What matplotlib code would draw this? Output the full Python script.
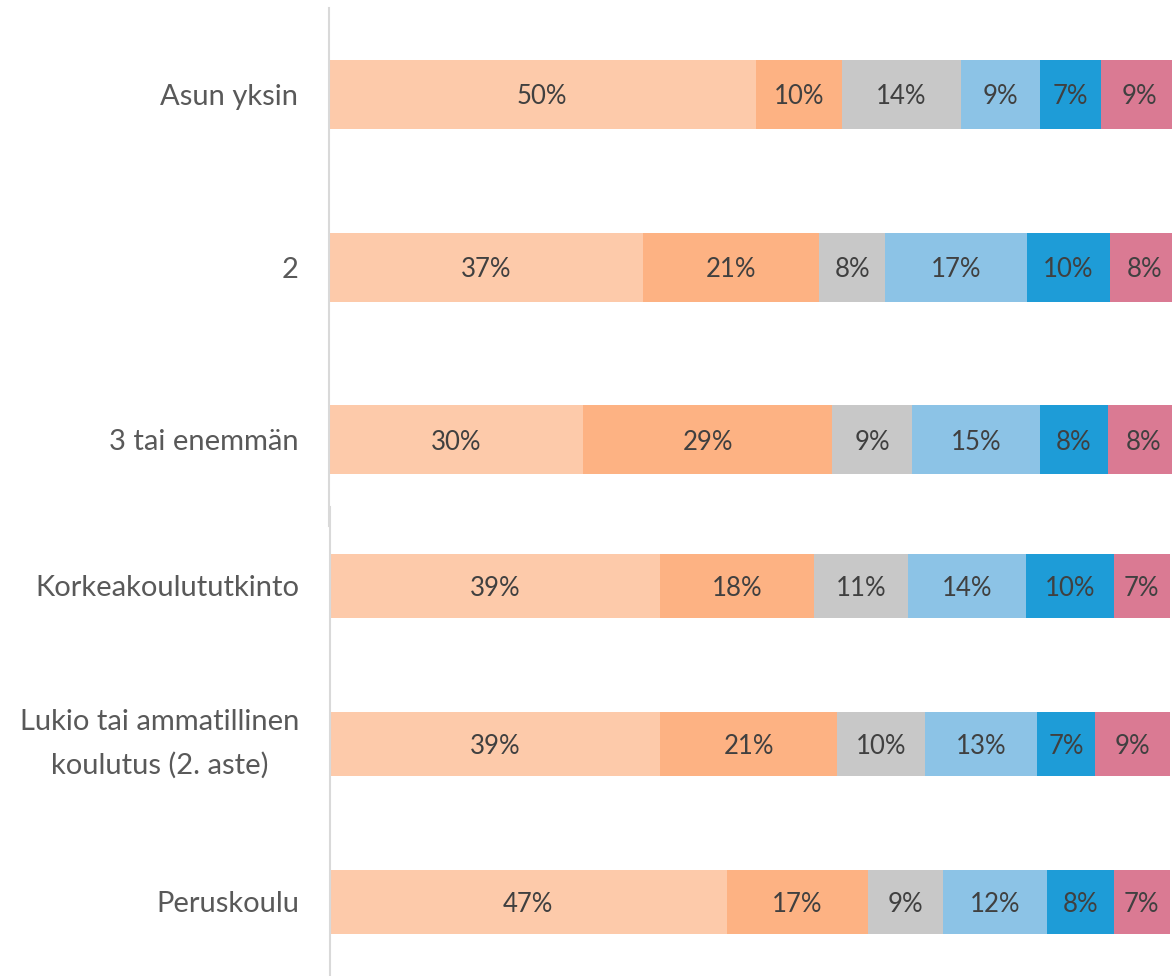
import numpy as np
import matplotlib.pyplot as plt

plt.rcParams['font.family'] = ['Lato', 'DejaVu Sans']

# rows of the two stacked panels (household size / education)
rows_top = ['Asun yksin', '2', '3 tai enemmän']
rows_bottom = ['Korkeakoulututkinto', 'Lukio tai ammatillinen\nkoulutus (2. aste)', 'Peruskoulu']

# shares (%) per answer group, in row order: top panel first, then bottom panel
group1 = [50.2, 36.9, 29.9, 39.3, 39.3, 47.2]
group2 = [10.2, 20.8, 29.3, 18.3, 21.1, 16.9]
group3 = [13.9, 7.7, 9.4, 11.2, 10.4, 8.9]
group4 = [9.3, 16.7, 15.0, 14.1, 13.4, 12.4]
group5 = [7.2, 9.8, 8.1, 10.4, 6.9, 7.9]
group6 = [9.2, 8.1, 8.3, 6.7, 8.9, 6.7]

groups = [group1, group2, group3, group4, group5, group6]
colors = ['#FDCAAA', '#FDB283', '#C8C8C8', '#8CC3E6', '#1E9CD7', '#DA7A93']

fig = plt.figure(figsize=(11.72, 9.76), dpi=100)
ax_top = fig.add_axes([0.2807, 0.461, 0.7253, 0.5307])
ax_bot = fig.add_axes([0.2816, -0.005, 0.7167, 0.4857])


def draw_panel(ax, labels, idx, bar_h):
    y = np.arange(len(labels))
    left = np.zeros(len(labels))
    for vals, col in zip(groups, colors):
        v = np.array([vals[i] for i in idx])
        bars = ax.barh(y, v, left=left, height=bar_h, color=col, linewidth=0)
        txts = ax.bar_label(bars, labels=[f'{x:.0f}%' for x in v], label_type='center',
                            fontsize=18.5, color='#404040')
        for t in txts:
            t.set_va('center_baseline')
        left += v
    ax.set_xlim(0, 100)
    ax.set_ylim(len(labels) - 0.5, -0.5)
    ax.set_yticks(y)
    ax.set_yticklabels(labels, fontsize=21, color='#595959', linespacing=1.75)
    for lab in ax.get_yticklabels():
        lab.set_multialignment('center')
        if '\n' in lab.get_text():
            lab.set_va('center')
    ax.tick_params(axis='y', length=0, pad=22)
    ax.set_xticks([])
    for s in ['top', 'right', 'bottom']:
        ax.spines[s].set_visible(False)
    ax.spines['left'].set_color('#D9D9D9')
    ax.spines['left'].set_linewidth(1.5)


draw_panel(ax_top, rows_top, [0, 1, 2], 0.4)
draw_panel(ax_bot, rows_bottom, [3, 4, 5], 0.405)

fig.savefig('out.png', dpi=100)
